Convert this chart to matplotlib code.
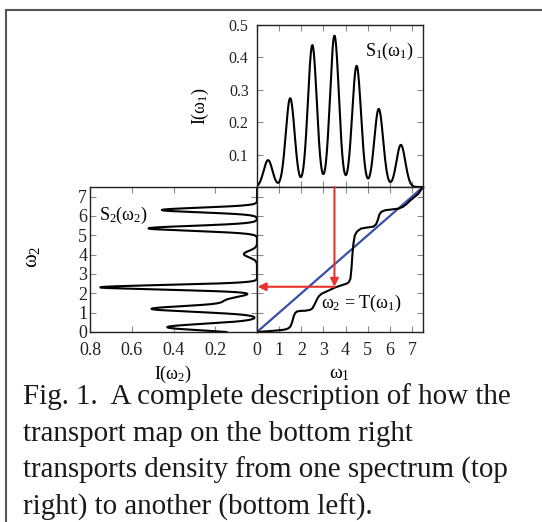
import matplotlib
matplotlib.use('Agg')
import matplotlib.pyplot as plt
from matplotlib.lines import Line2D
import numpy as np

plt.rcParams['font.family'] = ['Liberation Serif', 'DejaVu Serif']
plt.rcParams['mathtext.fontset'] = 'custom'
plt.rcParams['mathtext.rm'] = 'Liberation Serif'
plt.rcParams['mathtext.it'] = 'Liberation Serif'

W, H = 542, 522

### S1 (top panel): peak centres, heights and widths
s1_centers = [0.5, 1.5, 2.5, 3.5, 4.5, 5.5, 6.5]
s1_heights = [0.083, 0.274, 0.438, 0.467, 0.374, 0.241, 0.130]
s1_widths = [0.2, 0.2, 0.2, 0.2, 0.2, 0.2, 0.2]

### S2 (bottom left panel)
s2_centers = [0.25, 1.19, 1.62, 2.31, 4.03, 5.36, 6.31]
s2_heights = [0.43, 0.49, 0.15, 0.75, 0.063, 0.52, 0.456]
s2_widths = [0.17, 0.15, 0.2, 0.12, 0.17, 0.13, 0.12]

### transport map T
t_w1 = [0.0, 0.36, 0.81, 1.10, 1.27, 1.42, 1.52, 1.60, 1.66, 1.72, 1.80, 1.95, 2.17,
        2.39, 2.50, 2.60, 2.70, 2.80, 2.92, 3.15, 3.52, 3.83, 4.05, 4.15, 4.22,
        4.27, 4.31, 4.36, 4.42, 4.52, 4.70, 4.95, 5.26, 5.38, 5.46, 5.53, 5.62,
        5.80, 6.10, 6.39, 6.60, 6.76, 6.90, 7.05, 7.29, 7.5]
t_w2 = [0.0, 0.03, 0.07, 0.10, 0.13, 0.19, 0.30, 0.55, 0.82, 0.97, 1.06, 1.09, 1.10,
        1.14, 1.22, 1.42, 1.67, 1.86, 1.98, 2.10, 2.30, 2.42, 2.50, 2.58, 2.75,
        3.30, 4.00, 4.60, 5.00, 5.20, 5.35, 5.40, 5.45, 5.57, 5.80, 6.08, 6.22,
        6.30, 6.34, 6.38, 6.48, 6.62, 6.78, 6.92, 7.15, 7.5]

arrow_w1 = 3.5
arrow_w2 = 2.34

x_ticks = [0, 1, 2, 3, 4, 5, 6, 7]
s1_yticks = [0.1, 0.2, 0.3, 0.4, 0.5]
s2_xticks = [0.8, 0.6, 0.4, 0.2, 0.0]
s2_xticklabels = ['0.8', '0.6', '0.4', '0.2', '']

caption = ["Fig. 1.  A complete description of how the",
           "transport map on the bottom right",
           "transports density from one spectrum (top",
           "right) to another (bottom left)."]

grid = np.linspace(0, 7.5, 2000)


def spectrum(centers, heights, widths):
	out = np.zeros_like(grid)
	for c, h, s in zip(centers, heights, widths):
		out += h * np.exp(-(grid - c) ** 2 / (2 * s ** 2))
	return out


S1 = spectrum(s1_centers, s1_heights, s1_widths)
S2 = spectrum(s2_centers, s2_heights, s2_widths)


def px_rect(x0, y0, x1, y1):
	return [x0 / W, 1 - y1 / H, (x1 - x0) / W, (y1 - y0) / H]


def style(ax, size):
	for sp in ax.spines.values():
		sp.set_color('#222222')
		sp.set_linewidth(1.0)
	ax.tick_params(direction='in', top=True, right=True, length=4, width=0.8,
	               color='#888888', labelsize=size, labelcolor='#222222')


fig = plt.figure(figsize=(W / 100, H / 100), dpi=100)

ax_top = fig.add_axes(px_rect(257, 25, 423, 187))
ax_left = fig.add_axes(px_rect(90, 187, 257, 332))
ax_map = fig.add_axes(px_rect(257, 187, 423, 332))

# top: S1
ax_top.plot(grid, S1, color='black', lw=1.5)
ax_top.set_xlim(0, 7.5)
ax_top.set_ylim(0, 0.5)
ax_top.set_xticks(x_ticks)
ax_top.set_xticklabels([])
ax_top.set_yticks(s1_yticks)
ax_top.set_yticklabels(['0.1', '0.2', '0.3', '0.4', '0.5'])
style(ax_top, 11.5)
ax_top.tick_params(axis='y', pad=6)
ax_top.text(6.0, 0.418, r'$\mathrm{S}_1(\omega_1)$', fontsize=13, ha='center', va='center')

# bottom left: S2
ax_left.plot(S2, grid, color='black', lw=1.5)
ax_left.set_xlim(0.8, 0)
ax_left.set_ylim(0, 7.5)
ax_left.set_xticks(s2_xticks)
ax_left.set_xticklabels(s2_xticklabels)
ax_left.set_yticks(x_ticks)
style(ax_left, 13)
ax_left.tick_params(axis='y', pad=2)
ax_left.tick_params(axis='x', pad=7)
ax_left.text(0.642, 6.02, r'$\mathrm{S}_2(\omega_2)$', fontsize=13, ha='center', va='center')

# bottom right: transport map
ax_map.plot([0, 7.5], [0, 7.5], color='#3a4ea6', lw=1.6)
ax_map.plot(t_w1, t_w2, color='black', lw=1.5)
ax_map.annotate('', xy=(arrow_w1, arrow_w2), xytext=(arrow_w1, 7.5),
                arrowprops=dict(arrowstyle='-|>', color='#e8332d', lw=1.5,
                                mutation_scale=12, shrinkA=0, shrinkB=0))
ax_map.annotate('', xy=(0.03, arrow_w2), xytext=(arrow_w1, arrow_w2),
                arrowprops=dict(arrowstyle='-|>', color='#e8332d', lw=1.5,
                                mutation_scale=12, shrinkA=0, shrinkB=0))
ax_map.set_xlim(0, 7.5)
ax_map.set_ylim(0, 7.5)
ax_map.set_xticks(x_ticks)
ax_map.set_yticks(x_ticks)
ax_map.set_yticklabels([])
style(ax_map, 13)
ax_map.tick_params(axis='x', pad=7)
ax_map.text(4.69, 1.48, r'$\omega_2$ = T($\omega_1$)', fontsize=13, ha='center', va='center')

# axis labels
fig.text(200 / W, 1 - 106 / H, r'$\mathrm{I}(\omega_1)$', rotation=90, fontsize=13, ha='center', va='center')
fig.text(33 / W, 1 - 257 / H, r'$\omega_2$', rotation=90, fontsize=15, ha='center', va='center')
fig.text(173 / W, 1 - 374 / H, r'$\mathrm{I}(\omega_2)$', fontsize=13, ha='center', va='center')
fig.text(339 / W, 1 - 374 / H, r'$\omega_1$', fontsize=14, ha='center', va='center')

# caption
baselines = [403.5, 440.7, 477.9, 515.1]
for line, yb in zip(caption, baselines):
	fig.text(23 / W, 1 - yb / H, line, fontsize=20.9, color='#1a1a1a', ha='left', va='baseline')

# outer frame
fig.add_artist(Line2D([6 / W, 6 / W], [0, 1 - 10 / H], transform=fig.transFigure, color='#555555', lw=1.5))
fig.add_artist(Line2D([6 / W, 1], [1 - 10 / H, 1 - 10 / H], transform=fig.transFigure, color='#555555', lw=1.5))

fig.savefig('out.png', dpi=100)
